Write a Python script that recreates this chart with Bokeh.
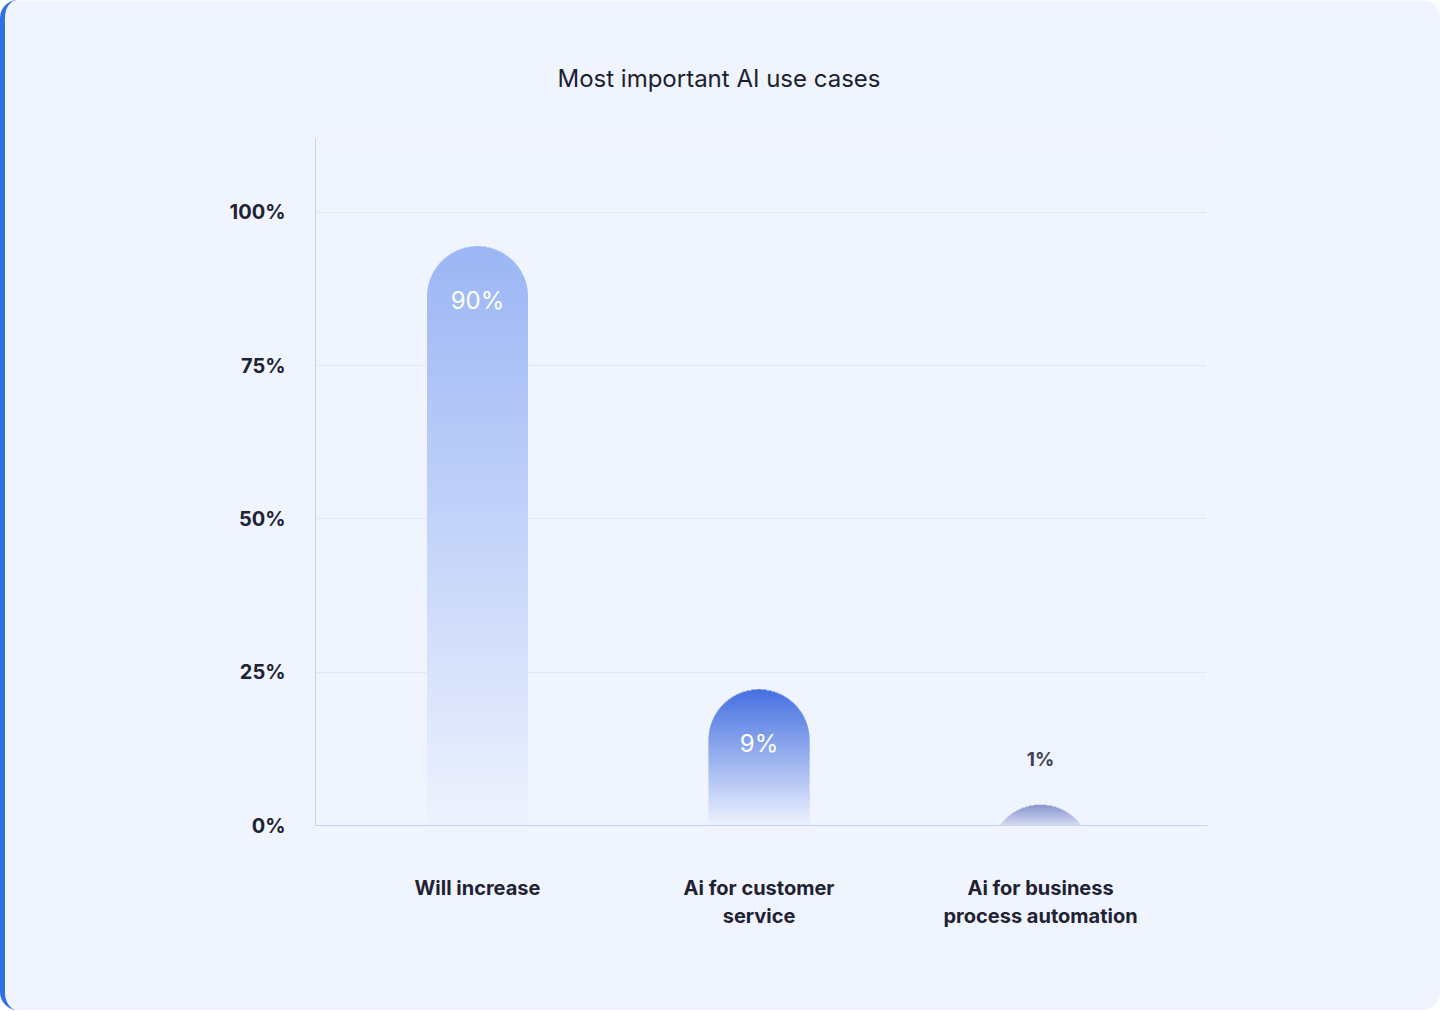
import math
from bokeh.plotting import figure
from bokeh.models import Range1d, FixedTicker, ColumnDataSource
from bokeh.core.properties import value
from bokeh.embed import file_html
from bokeh.resources import INLINE

# ---- data ----
categories = ["Will increase", "Ai for customer\nservice", "Ai for business\nprocess automation"]
bar_heights = [94.5, 22.2, 3.4]          # drawn bar heights (% axis)
value_labels = ["90%", "9%", "1%"]
y_ticks = [0, 25, 50, 75, 100]
y_tick_labels = ["0%", "25%", "50%", "75%", "100%"]
title_text = "Most important AI use cases"

# ---- styling ----
CARD = "#EFF4FE"
top_colors = ["#9CB6F5", "#4670E1", "#8896CF"]
bottom_colors = ["#EDF2FD", "#EDF2FD", "#D6DCF2"]
W, H = 1440, 1010
ML, MT = 310, 138
FW, FH = 892, 687
MR = W - ML - FW
MB = H - MT - FH
Y_END = 112.07
X_START, X_END = -0.5755, 2.593
BAR_PX = 101

p = figure(width=W, height=H, output_backend="svg", toolbar_location=None,
           x_range=Range1d(X_START, X_END), y_range=Range1d(0, Y_END),
           min_border_left=ML, min_border_right=MR, min_border_top=MT, min_border_bottom=MB)
p.styles = {"border-left": "5px solid #2F6FE8", "border-radius": "18px", "overflow": "hidden"}
p.background_fill_color = CARD
p.border_fill_color = CARD
p.outline_line_color = None

xs = list(range(len(categories)))
ppu_y = FH / Y_END
ppu_x = FW / (X_END - X_START)
R = BAR_PX / 2


def hex2rgb(h):
    h = h.lstrip("#")
    return tuple(int(h[i:i + 2], 16) for i in (0, 2, 4))


def lerp(c0, c1, t):
    a, b = hex2rgb(c0), hex2rgb(c1)
    return "#%02x%02x%02x" % tuple(round(a[i] + (b[i] - a[i]) * t) for i in range(3))


# bars: rounded-top pills with vertical gradient, built from 1px horizontal slices
sx, stop, sbot, sw, scol = [], [], [], [], []
for i, h in enumerate(bar_heights):
    tpx = h * ppu_y
    n = int(math.ceil(tpx))
    for k in range(n):
        lo = k
        hi = min(k + 1.0, tpx)
        mid = (lo + hi) / 2
        d = tpx - mid
        hw = R if d >= R else math.sqrt(max(R * R - (R - d) ** 2, 0))
        sx.append(xs[i])
        stop.append(hi / ppu_y)
        sbot.append(max(lo - 0.6, 0) / ppu_y)
        sw.append(2 * hw / ppu_x)
        scol.append(lerp(bottom_colors[i], top_colors[i], mid / tpx))
p.vbar(x=sx, top=stop, bottom=sbot, width=sw, fill_color=scol, line_color=None)

# value labels
r_y = R / ppu_y
inside = [(h * ppu_y) > 60 for h in bar_heights]
idx_in = [i for i in range(len(xs)) if inside[i]]
idx_out = [i for i in range(len(xs)) if not inside[i]]
in_src = ColumnDataSource(dict(x=[xs[i] for i in idx_in],
                               y=[bar_heights[i] - r_y for i in idx_in],
                               t=[value_labels[i] for i in idx_in]))
out_src = ColumnDataSource(dict(x=[xs[i] for i in idx_out],
                                y=[bar_heights[i] for i in idx_out],
                                t=[value_labels[i] for i in idx_out]))
p.text(x="x", y="y", text="t", source=in_src, y_offset=4, text_align="center",
       text_baseline="middle", text_color="white", text_font=value("Inter"),
       text_font_size="24px")
p.text(x="x", y="y", text="t", source=out_src, y_offset=-45, text_align="center",
       text_baseline="middle", text_color="#3D4257", text_font=value("Inter"),
       text_font_size="19px", text_font_style="bold")

# title
p.title.text = title_text
p.title.align = "left"
p.title.offset = 242
p.title.standoff = 92
p.title.text_font = "Inter"
p.title.text_font_size = "24px"
p.title.text_font_style = "normal"
p.title.text_color = "#1B2130"

# axes
p.xaxis.ticker = FixedTicker(ticks=xs, minor_ticks=[])
p.xaxis.major_label_overrides = {x: c for x, c in zip(xs, categories)}
p.yaxis.ticker = FixedTicker(ticks=y_ticks, minor_ticks=[])
p.yaxis.major_label_overrides = {t: l for t, l in zip(y_ticks, y_tick_labels)}
for ax in (p.xaxis, p.yaxis):
    ax.axis_line_color = "#C3D2EF"
    ax.axis_line_width = 1
    ax.major_tick_line_color = None
    ax.minor_tick_line_color = None
    ax.major_tick_out = 0
    ax.major_tick_in = 0
    ax.major_label_text_font = "Inter"
    ax.major_label_text_font_size = "20px"
    ax.major_label_text_font_style = "bold"
    ax.major_label_text_color = "#1F2233"
p.yaxis.major_label_standoff = 30
p.xaxis.major_label_standoff = 50

p.xgrid.grid_line_color = None
p.ygrid.ticker = FixedTicker(ticks=y_ticks[1:])
p.ygrid.grid_line_color = "#E2E8F4"
p.ygrid.grid_line_width = 1

open("out.html", "w").write(file_html(p, INLINE))
